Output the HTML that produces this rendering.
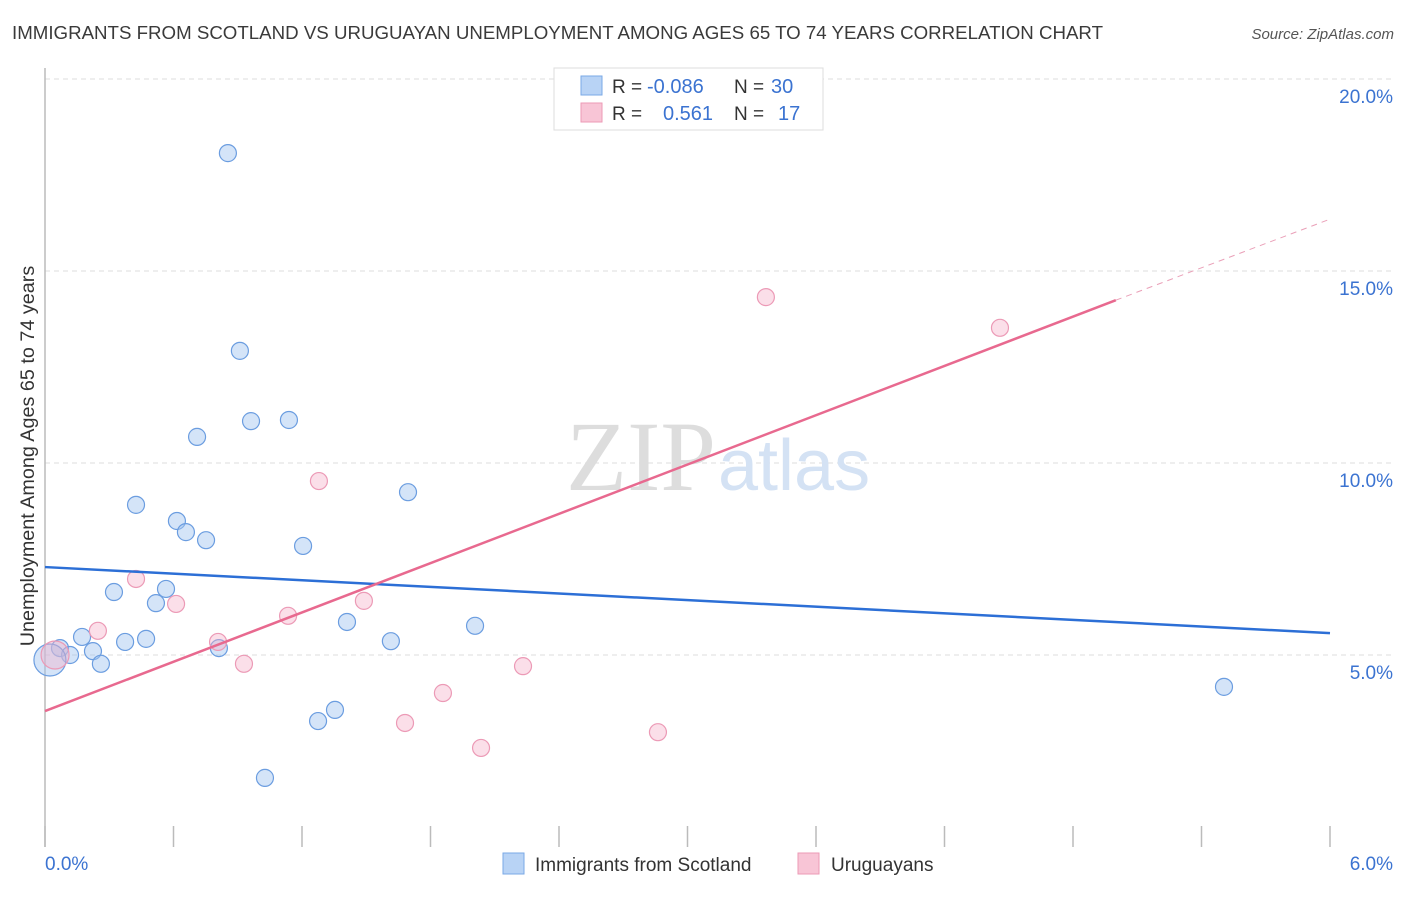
<!DOCTYPE html>
<html><head><meta charset="utf-8"><style>
body{margin:0;background:#fff;font-family:"Liberation Sans",sans-serif}
</style></head><body>
<svg width="1406" height="892" xmlns="http://www.w3.org/2000/svg" style="font-family:'Liberation Sans',sans-serif">
<text x="12" y="39" font-size="18.8" fill="#3a3a3a" textLength="1091" lengthAdjust="spacingAndGlyphs">IMMIGRANTS FROM SCOTLAND VS URUGUAYAN UNEMPLOYMENT AMONG AGES 65 TO 74 YEARS CORRELATION CHART</text>
<text x="1394" y="39" font-size="15" fill="#555" font-style="italic" text-anchor="end">Source: ZipAtlas.com</text>
<g id="grid"></g>
<line x1="45" y1="68" x2="45" y2="847" stroke="#bbb" stroke-width="1.5"/>
<text x="716" y="490" font-size="100" fill="#ddd" text-anchor="end" font-family="Liberation Serif,serif">ZIP</text>
<text x="718" y="490" font-size="72" fill="#d4e2f4">atlas</text>
<text transform="translate(34,456) rotate(-90)" font-size="19.8" fill="#333" text-anchor="middle">Unemployment Among Ages 65 to 74 years</text>
<g id="marks"></g>
<g>
<rect x="554" y="68" width="269" height="62" fill="#fff" stroke="#ddd"/>
<rect x="581" y="76" width="21" height="19" fill="#b8d3f5" stroke="#7aa8e6"/>
<rect x="581" y="103" width="21" height="19" fill="#f8c5d6" stroke="#ec9ab6"/>
<text x="612" y="93" font-size="19" fill="#333">R = </text><text x="647" y="93" font-size="20" fill="#3b73d1">-0.086</text>
<text x="734" y="93" font-size="19" fill="#333">N = </text><text x="771" y="93" font-size="20" fill="#3b73d1">30</text>
<text x="612" y="120" font-size="19" fill="#333">R = </text><text x="663" y="120" font-size="20" fill="#3b73d1">0.561</text>
<text x="734" y="120" font-size="19" fill="#333">N = </text><text x="778" y="120" font-size="20" fill="#3b73d1">17</text>
</g>
<g>
<rect x="503" y="853" width="21" height="21" fill="#b8d3f5" stroke="#7aa8e6"/>
<text x="535" y="871" font-size="19" fill="#333">Immigrants from Scotland</text>
<rect x="798" y="853" width="21" height="21" fill="#f8c5d6" stroke="#ec9ab6"/>
<text x="831" y="871" font-size="19" fill="#333">Uruguayans</text>
</g>
</svg>
<script>
const yTicks=[5,10,15,20];
const yTickLabels=["5.0%","10.0%","15.0%","20.0%"];
const xTickCount=11;
const xLabels=["0.0%","6.0%"];
const blueX=[0.854,0.910,0.962,1.139,0.710,0.425,1.695,0.616,0.658,0.752,1.205,0.322,0.565,0.518,1.410,2.008,0.173,0.374,0.472,1.615,0.812,0.070,0.224,0.117,0.261,1.275,1.354,1.027,5.505,0.023];
const blueY=[18.07,12.92,11.09,11.12,10.68,8.91,9.24,8.49,8.20,7.99,7.84,6.64,6.72,6.35,5.86,5.76,5.47,5.34,5.42,5.36,5.18,5.18,5.10,5.00,4.77,3.28,3.57,1.80,4.17,4.87];
const blueR=[8.5,8.5,8.5,8.5,8.5,8.5,8.5,8.5,8.5,8.5,8.5,8.5,8.5,8.5,8.5,8.5,8.5,8.5,8.5,8.5,8.5,8.5,8.5,8.5,8.5,8.5,8.5,8.5,8.5,16];
const pinkX=[3.413,3.366,4.459,1.279,0.425,0.612,0.247,1.135,1.489,0.808,0.929,2.232,1.858,1.681,2.036,2.862,0.047];
const pinkY=[19.97,14.32,13.52,9.53,6.98,6.33,5.63,6.02,6.41,5.34,4.77,4.71,4.01,3.23,2.58,2.99,5.00];
const pinkR=[8.5,8.5,8.5,8.5,8.5,8.5,8.5,8.5,8.5,8.5,8.5,8.5,8.5,8.5,8.5,8.5,14];
const blueTrend=[[0,7.29],[6,5.57]];
const pinkTrend=[[0,3.54],[5.0,14.24]];
const pinkTrendExt=[[5.0,14.24],[6,16.35]];
const NS="http://www.w3.org/2000/svg";
const sx=v=>45+v/6*1285, sy=v=>847-v*38.4;
const grid=document.getElementById('grid'), marks=document.getElementById('marks');
function mk(tag,attrs,parent){const e=document.createElementNS(NS,tag);for(const k in attrs)e.setAttribute(k,attrs[k]);parent.appendChild(e);return e;}
yTicks.forEach((t,i)=>{
 const l=mk('line',{x1:45,x2:1394,y1:sy(t),y2:sy(t),stroke:'#ddd','stroke-dasharray':'5,4'},grid);
 
 
 const tx=mk('text',{x:1393,y:sy(t)+24,'font-size':19,fill:'#3b73d1','text-anchor':'end'},grid);
 tx.textContent=yTickLabels[i];
 
 
});
for(let i=0;i<xTickCount;i++){
 const x=sx(i*6/(xTickCount-1));
 const l=mk('line',{x1:x,x2:x,y1:826,y2:847,stroke:'#bbb','stroke-width':1.5},grid);
 
 
}
[[0,45,'start'],[1,1393,'end']].forEach(([i,x,a])=>{
 const t=mk('text',{x:x,y:870,'font-size':19,fill:'#3b73d1','text-anchor':a},grid);
 t.textContent=xLabels[i];
 
 
});
blueX.forEach((v,i)=>{
 const c=mk('circle',{cx:sx(v),cy:sy(blueY[i]),r:blueR[i],fill:'rgba(160,195,240,0.45)',stroke:'#6b9de0','stroke-width':1.2},marks);
 
 
});
pinkX.forEach((v,i)=>{
 const c=mk('circle',{cx:sx(v),cy:sy(pinkY[i]),r:pinkR[i],fill:'rgba(245,175,200,0.4)',stroke:'#ec9ab6','stroke-width':1.2},marks);
 
 
});
const bl=mk('line',{x1:sx(blueTrend[0][0]),y1:sy(blueTrend[0][1]),x2:sx(blueTrend[1][0]),y2:sy(blueTrend[1][1]),stroke:'#2c6fd6','stroke-width':2.5},marks);


const pl=mk('line',{x1:sx(pinkTrend[0][0]),y1:sy(pinkTrend[0][1]),x2:sx(pinkTrend[1][0]),y2:sy(pinkTrend[1][1]),stroke:'#e8698f','stroke-width':2.5},marks);


const pd=mk('line',{x1:sx(pinkTrendExt[0][0]),y1:sy(pinkTrendExt[0][1]),x2:sx(pinkTrendExt[1][0]),y2:sy(pinkTrendExt[1][1]),stroke:'#eaa0b8','stroke-width':1,'stroke-dasharray':'6,5'},marks);


</script>
</body></html>
